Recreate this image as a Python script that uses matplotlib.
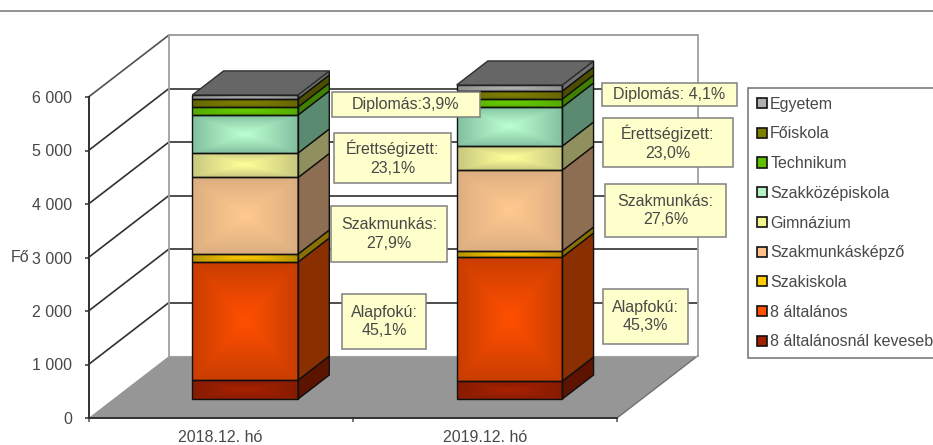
import numpy as np
import matplotlib
matplotlib.use("Agg")
import matplotlib.pyplot as plt
from matplotlib.patches import Polygon, Rectangle, Patch
from matplotlib.lines import Line2D
from matplotlib.colors import to_rgb

plt.rcParams['font.family'] = ['Liberation Sans', 'DejaVu Sans']

# ---- data ----
categories = ["2018.12. hó", "2019.12. hó"]
segments = ["8 általánosnál kevesebb", "8 általános", "Szakiskola", "Szakmunkásképző",
            "Gimnázium", "Szakközépiskola", "Technikum", "Főiskola", "Egyetem"]
values_2018 = [355, 2206, 150, 1430, 458, 710, 150, 150, 75]
values_2019 = [336, 2318, 112, 1514, 449, 729, 150, 150, 112]
yticks = [0, 1000, 2000, 3000, 4000, 5000, 6000]
yticklabels = ["0", "1 000", "2 000", "3 000", "4 000", "5 000", "6 000"]
labels_2018 = ["Alapfokú:\n45,1%", "Szakmunkás:\n27,9%", "Érettségizett:\n23,1%", "Diplomás:3,9%"]
labels_2019 = ["Alapfokú:\n45,3%", "Szakmunkás:\n27,6%", "Érettségizett:\n23,0%", "Diplomás: 4,1%"]

# ---- styles ----
center_colors = ["#a82200", "#ff4f00", "#ffcc00", "#ffc98f", "#ffff99", "#bcffd0", "#66cc00", "#808000", "#b4b4b4"]
edge_colors = ["#861b00", "#c83d00", "#b89400", "#dcae80", "#c8c880", "#82c0a0", "#55aa00", "#666600", "#909090"]
side_colors = ["#5c1400", "#8a3000", "#8a7000", "#8e6e52", "#90905e", "#5a8a70", "#3f8000", "#4d4d00", "#707070"]
swatch_colors = ["#a02000", "#ff4f00", "#ffcc00", "#ffc08a", "#f4f48c", "#b4f0c8", "#60c000", "#808000", "#b0b0b0"]
text_color = "#484848"
FS = 11.5

W, H = 933, 445
fig = plt.figure(figsize=(W / 100, H / 100), dpi=100)
ax = fig.add_axes([0, 0, 1, 1])

X0, Y0, CAT_PX, V_PX = 88.5, 418.0, 264.25, 0.0535


def px(p):
    return (p - X0) / CAT_PX


def py(p):
    return (Y0 - p) / V_PX


ax.set_xlim(px(0), px(W))
ax.set_ylim(py(H), py(0))
ax.autoscale(False)
ax.patch.set_visible(False)

DX, DY = 80.5 / CAT_PX, 62.0 / V_PX


def proj(x, v, d):
    return (x + d * DX, v + d * DY)


def poly(pts, **kw):
    ax.add_patch(Polygon(pts, closed=True, **kw))


n_cat = len(categories)
vmax = yticks[-1]

# walls and floor
poly([proj(0, 0, 0), proj(n_cat, 0, 0), proj(n_cat, 0, 1), proj(0, 0, 1)],
     facecolor="#969696", edgecolor="none", zorder=1)
for t in yticks[1:]:
    a, b, c = proj(0, t, 0), proj(0, t, 1), proj(n_cat, t, 1)
    col = "#303030" if t < vmax else "#505050"
    ax.plot([a[0], b[0]], [a[1], b[1]], color=col, lw=1.2, zorder=1.1, solid_capstyle='butt')
    ax.plot([b[0], c[0]], [b[1], c[1]], color=col if t < vmax else "#909090", lw=1.2, zorder=1.1,
            solid_capstyle='butt')
for x in (0, n_cat):
    a, b = proj(x, 0, 1), proj(x, vmax, 1)
    ax.plot([a[0], b[0]], [a[1], b[1]], color="#a0a0a0", lw=1.3, zorder=1.1)
a, b = proj(n_cat, 0, 0), proj(n_cat, 0, 1)
ax.plot([a[0], b[0]], [a[1], b[1]], color="#707070", lw=1.0, zorder=1.2)
a, b = proj(0, 0, 1), proj(n_cat, 0, 1)
ax.plot([a[0], b[0]], [a[1], b[1]], color="#a0a0a0", lw=0.8, zorder=1.2)

# bars
D0, D1 = 19.0 / 62, 43.0 / 62
HALF = 0.2
DARK = "#101010"
for i, vals in enumerate([values_2018, values_2019]):
    xl, xr = i + 0.5 - HALF, i + 0.5 + HALF
    base = 0
    for j, v in enumerate(vals):
        top = base + v
        (fx0, fy0), (fx1, fy1) = proj(xl, base, D0), proj(xr, top, D0)
        u = np.linspace(-1, 1, 61)
        vv = np.linspace(-1, 1, 61)
        U, VV = np.meshgrid(u, vv)
        T = np.maximum(np.abs(U), np.abs(VV))[..., None] ** 1.1
        c0, c1 = np.array(to_rgb(center_colors[j])), np.array(to_rgb(edge_colors[j]))
        ax.imshow(c0 * (1 - T) + c1 * T, extent=(fx0, fx1, fy0, fy1), aspect='auto',
                  interpolation='bilinear', zorder=2, origin='lower')
        ax.add_patch(Rectangle((fx0, fy0), fx1 - fx0, fy1 - fy0, fill=False,
                               edgecolor=DARK, lw=1.0, zorder=2.2))
        poly([proj(xr, base, D0), proj(xr, top, D0), proj(xr, top, D1), proj(xr, base, D1)],
             facecolor=side_colors[j], edgecolor=DARK, lw=1.0, zorder=2.1)
        base = top
    poly([proj(xl, base, D0), proj(xr, base, D0), proj(xr, base, D1), proj(xl, base, D1)],
         facecolor="#666666", edgecolor="#303030", lw=1.0, zorder=2.3)

# data label boxes (left, right, top, bottom in picture pixels)
boxes_2018 = [(342, 426, 294, 349), (331, 447, 206, 262), (334, 451, 133, 183), (332, 480, 92, 117)]
boxes_2019 = [(603, 688, 289, 344), (605, 726, 184, 237), (603, 733, 118, 167), (602, 737, 83, 106)]
for txts, boxes in ((labels_2018, boxes_2018), (labels_2019, boxes_2019)):
    for s, (l, r, t, b) in zip(txts, boxes):
        ax.add_patch(Rectangle((px(l), py(b)), px(r) - px(l), py(t) - py(b), facecolor="#ffffcc",
                               edgecolor="#808080", lw=1.1, zorder=5))
        ax.text(px((l + r) / 2), py((t + b) / 2), s, ha='center', va='center', ma='center',
                fontsize=FS, color=text_color, zorder=6, linespacing=1.3)

# axes
for s in ("top", "right"):
    ax.spines[s].set_visible(False)
ax.spines["left"].set_position(("data", 0))
ax.spines["bottom"].set_position(("data", 0))
ax.spines["left"].set_bounds(0, vmax)
ax.spines["bottom"].set_bounds(0, n_cat)
for s in ("left", "bottom"):
    ax.spines[s].set_color("#303030")
    ax.spines[s].set_linewidth(1.4)
ax.set_yticks(yticks)
ax.set_yticklabels(yticklabels, fontsize=FS, color=text_color)
ax.tick_params(axis='y', direction='out', length=3, width=1.1, color="#303030", pad=9)
ax.set_xticks(range(n_cat + 1))
ax.set_xticklabels([""] * (n_cat + 1))
ax.set_xticks([k + 0.5 for k in range(n_cat)], minor=True)
ax.set_xticklabels(categories, minor=True, fontsize=FS, color=text_color)
ax.tick_params(axis='x', which='major', direction='out', length=3, width=1.1, color="#505050")
ax.tick_params(axis='x', which='minor', length=0, pad=8.5)
ax.set_ylabel("Fő", rotation=0, ha='center', va='center', fontsize=FS, color=text_color)
ax.yaxis.set_label_coords(20 / W, 1 - 258 / H)

# legend
handles = [Patch(facecolor=swatch_colors[j], edgecolor="#101010", lw=1.2, label=segments[j])
           for j in range(len(segments) - 1, -1, -1)]
leg = ax.legend(handles=handles, loc='upper left', bbox_to_anchor=(px(748), py(88)),
                bbox_transform=ax.transData, borderaxespad=0, borderpad=0.55, fontsize=FS,
                labelspacing=0.92, handlelength=0.62, handleheight=0.6, handletextpad=0.22,
                fancybox=False, framealpha=1, edgecolor="#707070", labelcolor=text_color)
leg.get_frame().set_linewidth(1.1)
leg.set_zorder(7)

# top rule
fig.add_artist(Line2D([0, 1], [1 - 11 / H, 1 - 11 / H], color="#808080", lw=1.2))

fig.savefig("out.png", dpi=100)
